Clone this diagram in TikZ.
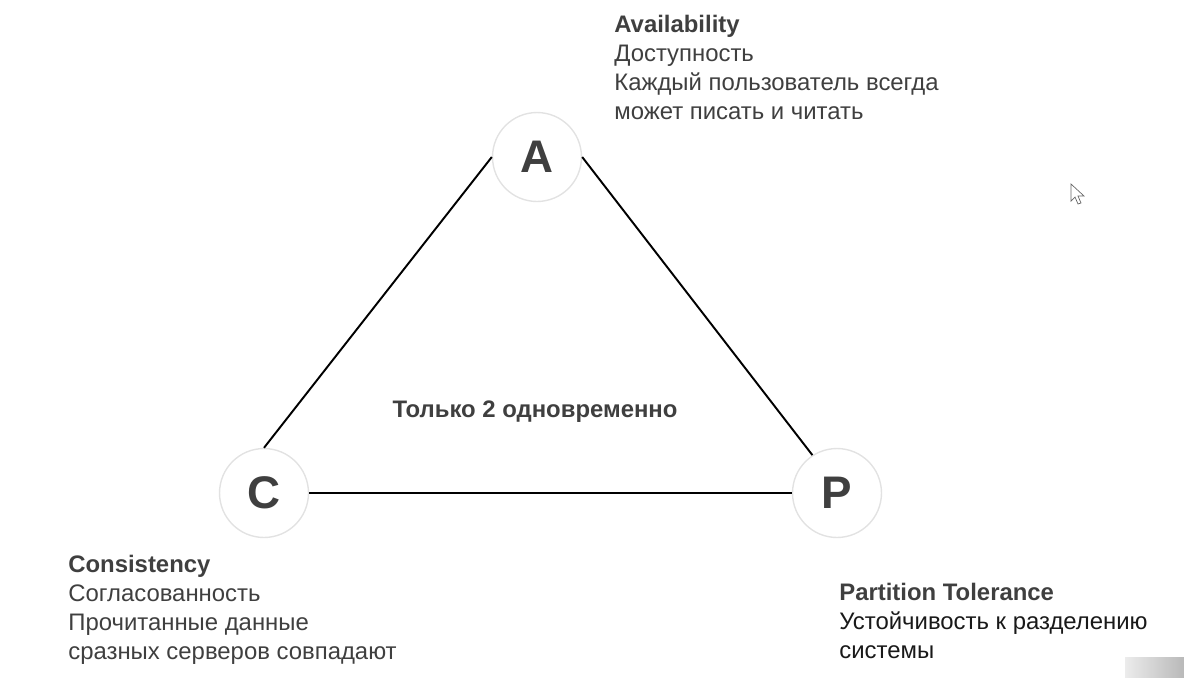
\documentclass[tikz,border=0pt]{standalone}
\usepackage{fontspec}
\setmainfont{Liberation Sans}
\usepackage{xcolor}
\usepackage{tikz}
\usetikzlibrary{positioning,calc}

\definecolor{ink}{HTML}{3F3F3F}
\definecolor{ringgray}{HTML}{E2E2E2}

\begin{document}
\begin{tikzpicture}[
    x=0.02cm, y=-0.02cm,
    vertex/.style={circle, draw=ringgray, line width=0.8pt, minimum size=1.78cm,
      inner sep=0pt, font=\fontsize{26}{30}\selectfont\bfseries, text=ink},
    desc/.style={anchor=north west, align=left, inner sep=0pt, text=ink,
      font=\fontsize{13.6}{16.4}\selectfont},
    edge/.style={line width=1.1pt, black},
  ]
  \useasboundingbox (0,0) rectangle (1184,677);
  \node[vertex] (a) at (537,157) {A};
  \node[vertex] (c) at (264,493) {C};
  \node[vertex] (p) at (837,493) {P};
  \draw[edge] (a.west) -- (c.north);
  \draw[edge] (a.east) -- (p.123);
  \draw[edge] (c.east) -- (p.west);
  % descriptions next to the corners
  \node[desc] (avail) at (614,15)
    {\textbf{Availability}\\Доступность\\Каждый пользователь всегда\\может писать и читать};
  \node[desc] (cons) at (68,555)
    {\textbf{Consistency}\\Согласованность\\Прочитанные данные\\сразных серверов совпадают};
  \node[desc] (part) at (839,583)
    {\textbf{Partition Tolerance}\\\textcolor{black!90}{Устойчивость к разделению}\\\textcolor{black!90}{системы}};
  \node[anchor=north, inner sep=0pt, text=ink, font=\fontsize{13.6}{16.4}\selectfont\bfseries]
    (only2) at (535,400) {Только 2 одновременно};
  % screen leftovers
  \shade[left color=gray!15, right color=gray!55] (1125,657) rectangle (1184,677);
  \draw[gray!80!black, line width=0.4pt, fill=white]
    (1071,184) -- (1071,201) -- (1075,197) -- (1078,204) -- (1081,203)
    -- (1078,196) -- (1084,196) -- cycle;
\end{tikzpicture}
\end{document}
